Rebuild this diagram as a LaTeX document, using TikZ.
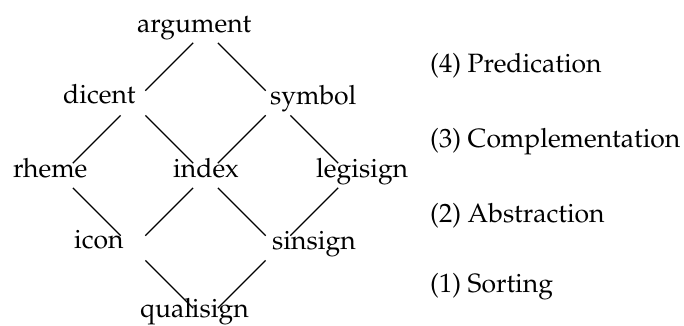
\documentclass[tikz,border=0pt]{standalone}
\usepackage[T1]{fontenc}
\usepackage{mathpazo}
\begin{document}
\begin{tikzpicture}[x=1pt,y=-1pt,
  lbl/.style={inner sep=0pt,anchor=base west,font=\fontsize{26.5}{32}\selectfont},
  edge/.style={line width=1.3pt,shorten <=17.5pt,shorten >=17.5pt}]
\useasboundingbox (0,0) rectangle (684,325);
% lattice vertices
\coordinate (vArg) at (205.5,30.5);
\coordinate (vDic) at (133,103);
\coordinate (vSym) at (278,103);
\coordinate (vRhe) at (60.5,175.5);
\coordinate (vInd) at (205.5,175.5);
\coordinate (vLeg) at (350.5,175.5);
\coordinate (vIco) at (133,248);
\coordinate (vSin) at (278,248);
\coordinate (vQua) at (205.5,320.5);
% labels
\node[lbl] (argument) at (137,32) {argument};
\node[lbl] (dicent) at (63,103) {dicent};
\node[lbl] (symbol) at (270,104) {symbol};
\node[lbl] (rheme) at (13,177) {rheme};
\node[lbl] (index) at (173,177) {index};
\node[lbl] (legisign) at (316,177) {legisign};
\node[lbl] (icon) at (74,248) {icon};
\node[lbl] (sinsign) at (272,249) {sinsign};
\node[lbl] (qualisign) at (140,317) {qualisign};
\node[lbl] (l4) at (430,72) {(4) Predication};
\node[lbl] (l3) at (430,147) {(3) Complementation};
\node[lbl] (l2) at (430,222) {(2) Abstraction};
\node[lbl] (l1) at (430,292) {(1) Sorting};
% edges
\draw[edge] (vArg) -- (vDic);
\draw[edge] (vArg) -- (vSym);
\draw[edge] (vDic) -- (vRhe);
\draw[edge] (vDic) -- (vInd);
\draw[edge] (vSym) -- (vInd);
\draw[edge] (vSym) -- (vLeg);
\draw[edge] (vRhe) -- (vIco);
\draw[edge] (vInd) -- (vIco);
\draw[edge] (vInd) -- (vSin);
\draw[edge] (vLeg) -- (vSin);
\draw[edge] (vIco) -- (vQua);
\draw[edge] (vSin) -- (vQua);
\end{tikzpicture}
\end{document}
